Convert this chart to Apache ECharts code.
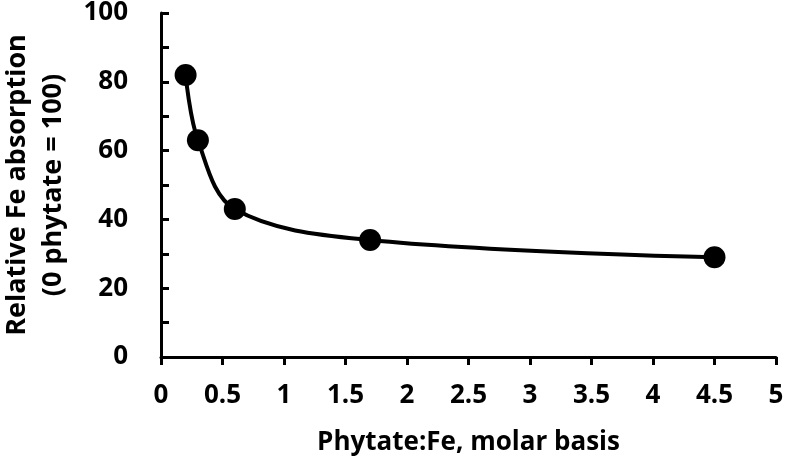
<!DOCTYPE html>
<html>
<head>
<meta charset="utf-8">
<script src="https://cdn.jsdelivr.net/npm/echarts@6/dist/echarts.min.js"></script>
<style>
  html, body { margin: 0; padding: 0; background: #fff; }
  #main { width: 789px; height: 466px; }
</style>
</head>
<body>
<div id="main"></div>
<script>
// 数据
const phytateRatio = [0.2, 0.3, 0.6, 1.7, 4.5];
const relAbsorption = [82, 63, 43, 34, 29];

const chart = echarts.init(document.getElementById('main'));

const font = '"Open Sans", "Liberation Sans", sans-serif';

const option = {
  animation: false,
  grid: { left: 161, right: 13, top: 13, bottom: 109, containLabel: false, outerBoundsMode: 'none' },
  xAxis: {
    type: 'value',
    min: 0,
    max: 5,
    interval: 0.5,
    name: 'Phytate:Fe, molar basis',
    nameLocation: 'middle',
    nameGap: 73,
    nameTextStyle: { fontFamily: font, fontWeight: 'bold', fontSize: 26, color: '#000' },
    axisLine: { lineStyle: { color: '#000', width: 3 } },
    axisTick: { show: true, inside: false, length: 8, lineStyle: { color: '#000', width: 3 } },
    axisLabel: { fontFamily: font, fontWeight: 'bold', fontSize: 26, color: '#000', margin: 26 },
    splitLine: { show: false }
  },
  yAxis: {
    type: 'value',
    min: 0,
    max: 100,
    interval: 20,
    name: 'Relative Fe absorption\n(0 phytate = 100)',
    nameLocation: 'middle',
    nameGap: 90,
    nameTextStyle: { fontFamily: font, fontWeight: 'bold', fontSize: 27, color: '#000', lineHeight: 36 },
    axisLine: { show: true, lineStyle: { color: '#000', width: 3 } },
    axisTick: { show: true, inside: true, length: 8, lineStyle: { color: '#000', width: 3 } },
    minorTick: { show: true, splitNumber: 2, length: 8, lineStyle: { color: '#000', width: 3 } },
    axisLabel: { fontFamily: font, fontWeight: 'bold', fontSize: 26, color: '#000', margin: 33 },
    splitLine: { show: false }
  },
  series: [
    {
      type: 'line',
      data: phytateRatio.map((x, i) => [x, relAbsorption[i]]),
      smooth: 0.35,
      symbol: 'circle',
      symbolSize: 22,
      lineStyle: { color: '#000', width: 4 },
      itemStyle: { color: '#000' }
    }
  ]
};

chart.setOption(option);
</script>
</body>
</html>
